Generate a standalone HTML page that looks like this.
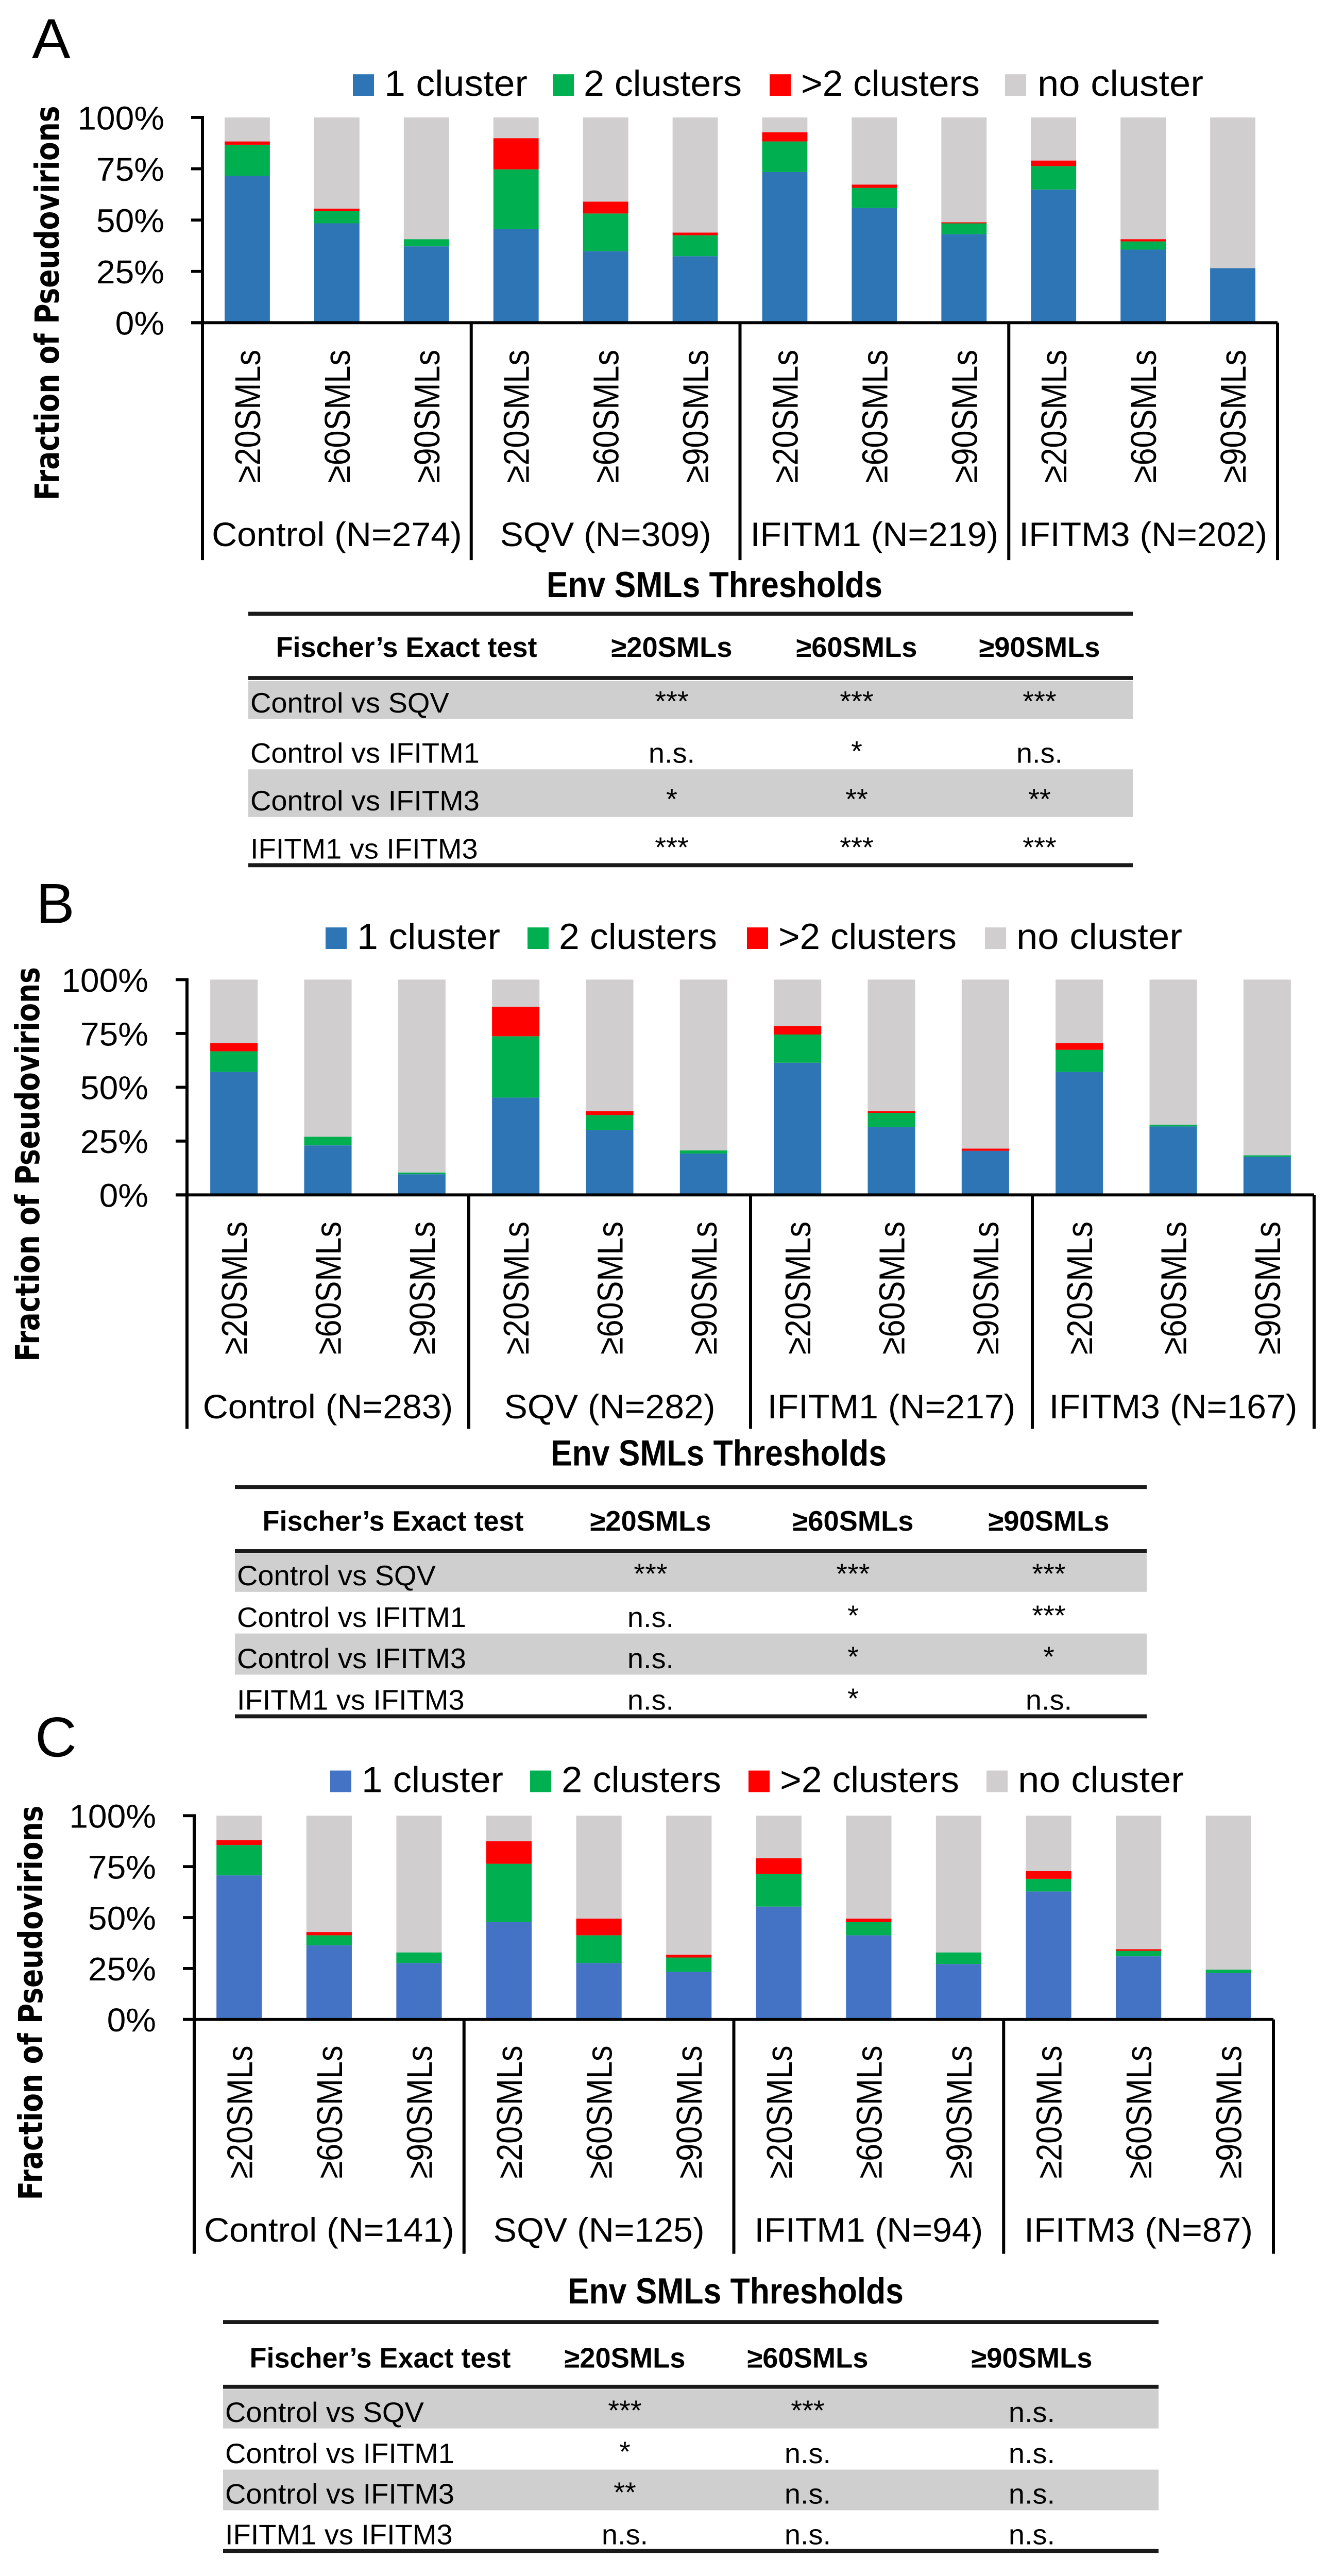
<!DOCTYPE html>
<html><head><meta charset="utf-8"><style>
html,body{margin:0;padding:0;background:#fff;width:100vw;height:100vh;overflow:hidden}
svg{display:block;position:fixed;left:0;top:0;width:100vw;height:100vh}
text{font-family:"Liberation Sans",sans-serif;fill:#000}
</style></head><body>
<svg id="fig" xmlns="http://www.w3.org/2000/svg" viewBox="0 0 2576 5133" preserveAspectRatio="none"></svg>
<script>
// ---- shared categories ----
const thresholds = ["≥20SMLs","≥60SMLs","≥90SMLs"];
const tickLabels = ["0%","25%","50%","75%","100%"];
const tickValues = [0,25,50,75,100];
const legendLabels = ["1 cluster","2 clusters",">2 clusters","no cluster"];
const tableCols = ["Fischer’s Exact test","≥20SMLs","≥60SMLs","≥90SMLs"];
const tableRows = ["Control vs SQV","Control vs IFITM1","Control vs IFITM3","IFITM1 vs IFITM3"];

// ---- panel A data ----
const groupsA = ["Control (N=274)","SQV (N=309)","IFITM1 (N=219)","IFITM3 (N=202)"];
const blueA  = [71.5,48.4,37.2,45.7,34.8,32.4,73.4,55.9,43.1,64.9,35.6,26.6];
const greenA = [15.2,5.9,3.5,29.0,18.4,10.2,14.9,9.8,5.3,11.4,4.0,0];
const redA   = [1.6,1.3,0,15.2,5.8,1.3,4.5,1.6,0.5,2.7,1.1,0];
const statsA = [["***","***","***"],["n.s.","*","n.s."],["*","**","**"],["***","***","***"]];

// ---- panel B data ----
const groupsB = ["Control (N=283)","SQV (N=282)","IFITM1 (N=217)","IFITM3 (N=167)"];
const blueB  = [57.1,23.0,9.6,45.2,30.1,19.2,61.4,31.6,20.5,57.1,31.8,17.7];
const greenB = [9.6,4.0,0.8,28.5,7.0,1.5,13.1,6.5,0,10.3,0.8,0.7];
const redB   = [3.8,0,0,13.7,1.8,0,4.0,0.8,1.0,3.1,0,0];
const statsB = [["***","***","***"],["n.s.","*","***"],["n.s.","*","*"],["n.s.","*","n.s."]];

// ---- panel C data ----
const groupsC = ["Control (N=141)","SQV (N=125)","IFITM1 (N=94)","IFITM3 (N=87)"];
const blueC  = [70.7,36.4,27.7,47.8,27.7,23.4,55.4,41.3,27.2,62.8,31.0,22.8];
const greenC = [14.9,4.9,5.2,28.6,13.6,7.0,16.1,6.5,5.7,6.2,2.7,1.7];
const redC   = [2.4,1.6,0,11.1,8.2,1.4,7.6,1.7,0,3.8,0.8,0];
const statsC = [["***","***","n.s."],["*","n.s.","n.s."],["**","n.s.","n.s."],["n.s.","n.s.","n.s."]];

const NS="http://www.w3.org/2000/svg";
const svg=document.getElementById('fig');
function mk(tag,attrs,parent,txt){const e=document.createElementNS(NS,tag);for(const k in attrs)e.setAttribute(k,attrs[k]);if(txt!==undefined)e.textContent=txt;(parent||svg).appendChild(e);return e;}

function panel(P){
  const g=mk('g',{});
  
  
  const lab=mk('text',{x:P.labX,y:P.labY,'font-size':112},g,P.id);
  
  
  const lcols=[P.c1,"#00B050","#FF0000","#D0CECE"];
  for(let i=0;i<4;i++){
    const it=mk('g',{},g);
    
    
    mk('rect',{x:P.legSq[i],y:P.legY-43,width:41,height:43,fill:lcols[i]},it);
    mk('text',{x:P.legTx[i][0],y:P.legY,'font-size':72,textLength:P.legTx[i][1]-P.legTx[i][0],lengthAdjust:'spacingAndGlyphs'},it,legendLabels[i]);
  }
  const x0=P.ax0,x1=P.ax1,yT=P.y100,yB=P.y0;
  const band=(x1-x0)/12;
  const yS=v=>yB-(v/100)*(yB-yT);
  const xC=i=>x0+band*(i+0.5);
  const bw=band*0.505;
  for(let i=0;i<12;i++){
    const bg=mk('g',{},g);
    
    
    const b=P.blue[i],gr=P.green[i],r=P.red[i];
    const segs=[[0,b,P.c1],[b,b+gr,"#00B050"],[b+gr,b+gr+r,"#FF0000"],[b+gr+r,100,"#D0CECE"]];
    segs.forEach(s=>{if(s[1]>s[0])mk('rect',{x:xC(i)-bw/2,y:yS(s[1]),width:bw,height:yS(s[0])-yS(s[1]),fill:s[2]},bg);});
  }
  const ax=mk('g',{stroke:'#000','stroke-width':6},g);
  
  
  mk('line',{x1:x0,y1:yT-3,x2:x0,y2:P.divB},ax);
  mk('line',{x1:x0-22,y1:yB,x2:x1,y2:yB},ax);
  for(let k=1;k<=4;k++){const xd=x0+band*3*k;mk('line',{x1:xd,y1:yB,x2:xd,y2:P.divB},ax);}
  tickValues.forEach((v,k)=>{
    mk('line',{x1:x0-22,y1:yS(v),x2:x0,y2:yS(v)},ax);
    const t=mk('text',{x:P.tickR,y:yS(v)+24,'font-size':66,'text-anchor':'end'},g,tickLabels[k]);
    
    
  });
  for(let i=0;i<12;i++){
    const xx=xC(i)+25;
    const t=mk('text',{x:xx,y:P.rotB,'font-size':70,transform:`rotate(-90 ${xx} ${P.rotB})`,textLength:265,lengthAdjust:'spacingAndGlyphs'},g,thresholds[i%3]);
    
    
  }
  for(let k=0;k<4;k++){
    const t=mk('text',{x:x0+band*(3*k+1.5),y:P.grpY,'font-size':68,'text-anchor':'middle'},g,P.groups[k]);
    
    
  }
  const yt=mk('text',{x:P.ytX+22,y:P.ytY,'font-size':64,'font-weight':'bold','text-anchor':'middle',transform:`rotate(-90 ${P.ytX+22} ${P.ytY})`,textLength:786,lengthAdjust:'spacingAndGlyphs',style:'font-family:"DejaVu Sans",sans-serif'},g,"Fraction of Pseudovirions");
  
  
  const xt=mk('text',{x:P.envX,y:P.envY,'font-size':72,'font-weight':'bold','text-anchor':'middle',textLength:652,lengthAdjust:'spacingAndGlyphs'},g,"Env SMLs Thresholds");
  
  
  const tb=mk('g',{},g);
  
  
  const T=P.tab;
  for(let r=0;r<4;r++){
    if(r%2===0)mk('rect',{x:T.x0,y:T.rows[r],width:T.x1-T.x0,height:T.rows[r+1]-T.rows[r],fill:'#CFCFCF'},tb);
  }
  [T.top,T.line2,T.rows[4]].forEach(y=>{mk('rect',{x:T.x0,y:y-4,width:T.x1-T.x0,height:8,fill:'#1a1a1a'},tb);});
  tableCols.forEach((c,k)=>{
    const t=mk('text',{x:T.cols[k],y:T.hdrB,'font-size':56,'font-weight':'bold','text-anchor':'middle',textLength:k===0?507:235,lengthAdjust:'spacingAndGlyphs'},tb,c);
    
    
  });
  for(let r=0;r<4;r++){
    const base=T.rows[r+1]-13;
    const t=mk('text',{x:T.x0+4,y:base,'font-size':56},tb,tableRows[r]);
    
    
    for(let c=0;c<3;c++){
      const s=P.stats[r][c];
      const v=mk('text',{x:T.cols[c+1],y:s.indexOf('*')>=0?base-4:base,'font-size':56,'text-anchor':'middle'},tb,s);
      
      
    }
  }
}

panel({id:'A',labX:62,labY:116,c1:'#2E75B6',legY:191,
  legSq:[685,1073,1494,1951],legTx:[[746,1024],[1133,1440],[1555,1902],[2014,2336]],
  ax0:393,ax1:2480,y100:234,y0:643,divB:1116,tickR:319,rotB:962,grpY:1088,
  groups:groupsA,blue:blueA,green:greenA,red:redA,ytX:92,ytY:604,envX:1387,envY:1190,
  stats:statsA,
  tab:{x0:482,x1:2199,top:1223,line2:1351,hdrB:1309,rows:[1357,1433,1533,1628,1724],cols:[789,1304,1663,2018]}});
panel({id:'B',labX:70,labY:1839,c1:'#2E75B6',legY:1891,
  legSq:[632,1024,1450,1912],legTx:[[693,971],[1085,1392],[1511,1857],[1973,2295]],
  ax0:363,ax1:2551,y100:1952,y0:2381,divB:2847,tickR:288,rotB:2699,grpY:2826,
  groups:groupsB,blue:blueB,green:greenB,red:redB,ytX:54,ytY:2320,envX:1395,envY:2920,
  stats:statsB,
  tab:{x0:456,x1:2226,top:2963,line2:3091,hdrB:3050,rows:[3096,3172,3255,3337,3420],cols:[763,1263,1656,2036]}});
panel({id:'C',labX:68,labY:3500,c1:'#4472C4',legY:3571,
  legSq:[641,1029,1453,1915],legTx:[[702,977],[1090,1400],[1514,1862],[1976,2298]],
  ax0:377,ax1:2472,y100:3618,y0:4024,divB:4491,tickR:303,rotB:4341,grpY:4467,
  groups:groupsC,blue:blueC,green:greenC,red:redC,ytX:60,ytY:3991,envX:1428,envY:4590,
  stats:statsC,
  tab:{x0:433,x1:2249,top:4627,line2:4756,hdrB:4718,rows:[4761,4839,4921,5002,5083],cols:[738,1213,1568,2003]}});
</script>
</body></html>
